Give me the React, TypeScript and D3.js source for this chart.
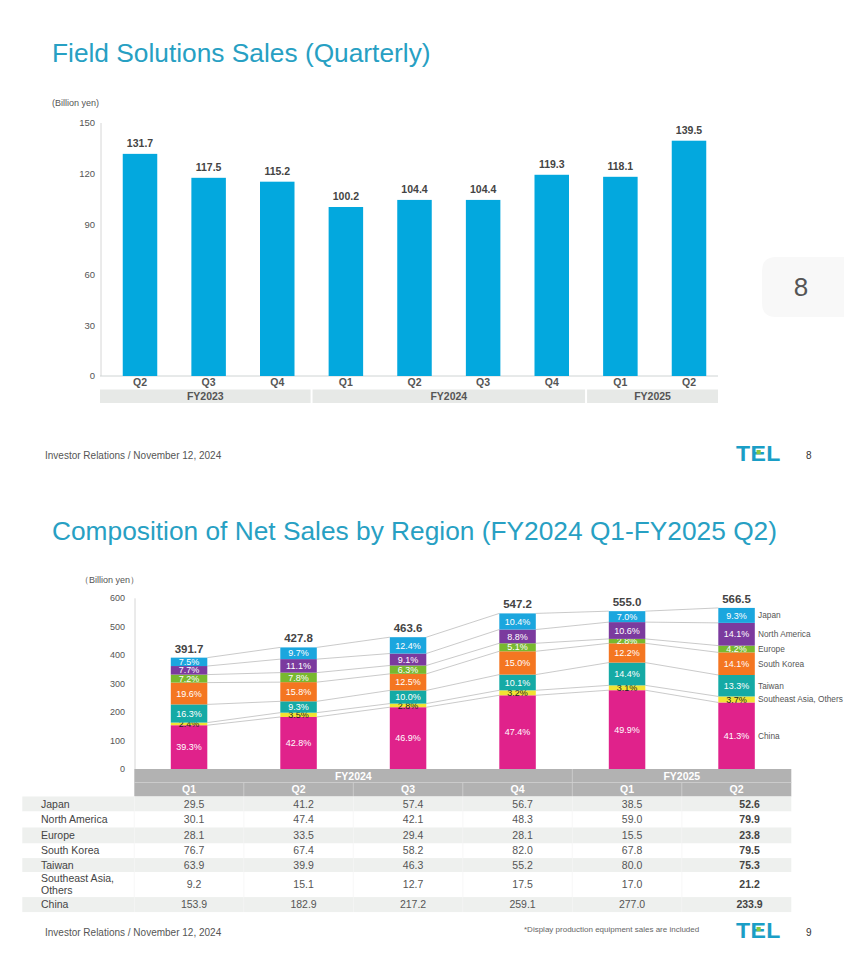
import React from 'react';
import * as d3 from 'd3';

// ---------- Field Solutions Sales (Quarterly) ----------
const fsQuarters = ['Q2', 'Q3', 'Q4', 'Q1', 'Q2', 'Q3', 'Q4', 'Q1', 'Q2'];
const fsValues = [131.7, 117.5, 115.2, 100.2, 104.4, 104.4, 119.3, 118.1, 139.5];
const fsYearLabels = ['FY2023', 'FY2024', 'FY2025'];
const fsYearCounts = [3, 4, 2];
const fsTicks = [0, 30, 60, 90, 120, 150];

// ---------- Composition of Net Sales by Region ----------
const regQuarters = ['Q1', 'Q2', 'Q3', 'Q4', 'Q1', 'Q2'];
const regYearLabels = ['FY2024', 'FY2025'];
const regYearCounts = [4, 2];
const regTicks = [0, 100, 200, 300, 400, 500, 600];
const regionNames = ['Japan', 'North America', 'Europe', 'South Korea', 'Taiwan', 'Southeast Asia, Others', 'China'];
const japanVals = [29.5, 41.2, 57.4, 56.7, 38.5, 52.6];
const northAmericaVals = [30.1, 47.4, 42.1, 48.3, 59.0, 79.9];
const europeVals = [28.1, 33.5, 29.4, 28.1, 15.5, 23.8];
const southKoreaVals = [76.7, 67.4, 58.2, 82.0, 67.8, 79.5];
const taiwanVals = [63.9, 39.9, 46.3, 55.2, 80.0, 75.3];
const seAsiaVals = [9.2, 15.1, 12.7, 17.5, 17.0, 21.2];
const chinaVals = [153.9, 182.9, 217.2, 259.1, 277.0, 233.9];
const regTotals = [391.7, 427.8, 463.6, 547.2, 555.0, 566.5];
const japanPct = [7.5, 9.7, 12.4, 10.4, 7.0, 9.3];
const northAmericaPct = [7.7, 11.1, 9.1, 8.8, 10.6, 14.1];
const europePct = [7.2, 7.8, 6.3, 5.1, 2.8, 4.2];
const southKoreaPct = [19.6, 15.8, 12.5, 15.0, 12.2, 14.1];
const taiwanPct = [16.3, 9.3, 10.0, 10.1, 14.4, 13.3];
const seAsiaPct = [2.4, 3.5, 2.8, 3.2, 3.1, 3.7];
const chinaPct = [39.3, 42.8, 46.9, 47.4, 49.9, 41.3];

const FONT = '"Liberation Sans", Arial, Helvetica, sans-serif';
const TITLE = '#27a0c3';
const BAR = '#03a8de';

const regionColors: Record<string, string> = {
  Japan: '#1ba6de',
  'North America': '#7b3a9e',
  Europe: '#78b82f',
  'South Korea': '#f47621',
  Taiwan: '#15aaa5',
  'Southeast Asia, Others': '#f1e332',
  China: '#e0228b',
};

function TelLogo({ x, y }: { x: number; y: number }) {
  return (
    <g transform={`translate(${x},${y})`}>
      <text
        x={0}
        y={17}
        fontFamily={FONT}
        fontWeight={900}
        fontSize={22}
        fill="#1a9ec6"
        letterSpacing={0.3}
        transform="scale(1.05,1)"
      >
        TEL
      </text>
      <rect x={20.5} y={6} width={4.2} height={4.2} fill="#8cc63f" />
    </g>
  );
}

export default function App() {
  // ---------- top chart scales ----------
  const fsY = d3.scaleLinear().domain([0, 150]).range([376, 123]);
  const fsX = d3.scalePoint<number>().domain(d3.range(fsValues.length)).range([140, 689]);
  const fsBarW = 34.5;
  const fsLeft = 100;
  const fsRight = 718;

  const fsGroups: { label: string; x0: number; x1: number }[] = [];
  {
    let s = 0;
    fsYearLabels.forEach((label, gi) => {
      const e = s + fsYearCounts[gi] - 1;
      const x0 = s === 0 ? fsLeft : ((fsX(s - 1) as number) + (fsX(s) as number)) / 2 + 1;
      const x1 = e === fsValues.length - 1 ? fsRight : ((fsX(e) as number) + (fsX(e + 1) as number)) / 2 - 1;
      fsGroups.push({ label, x0, x1 });
      s = e + 1;
    });
  }

  // ---------- bottom chart ----------
  const rY = d3.scaleLinear().domain([0, 600]).range([769, 598.3]);
  const colW = 109.5;
  const tableLeftCol = 134.3;
  const rX = d3
    .scalePoint<number>()
    .domain(d3.range(regQuarters.length))
    .range([tableLeftCol + colW / 2, tableLeftCol + colW * 5.5]);
  const rBarW = 36.5;

  const valueArrays: Record<string, number[]> = {
    Japan: japanVals,
    'North America': northAmericaVals,
    Europe: europeVals,
    'South Korea': southKoreaVals,
    Taiwan: taiwanVals,
    'Southeast Asia, Others': seAsiaVals,
    China: chinaVals,
  };
  const pctArrays: Record<string, number[]> = {
    Japan: japanPct,
    'North America': northAmericaPct,
    Europe: europePct,
    'South Korea': southKoreaPct,
    Taiwan: taiwanPct,
    'Southeast Asia, Others': seAsiaPct,
    China: chinaPct,
  };
  const stackOrder = [...regionNames].reverse(); // bottom to top
  const rows = regQuarters.map((_, i) => {
    const o: Record<string, number> = {};
    regionNames.forEach((r) => (o[r] = valueArrays[r][i]));
    return o;
  });
  const series = d3.stack<Record<string, number>>().keys(stackOrder)(rows);

  const boundaries: number[][] = series.map((s) => s.map((d) => d[1]));

  // table geometry
  const tableX0 = 22.3;
  const tableX1 = tableLeftCol + colW * 6;
  const hdr1Y = 769;
  const hdr2Y = 782.5;
  const bodyY = 796.5;
  const rowHeights = [15, 16, 16, 14.6, 14, 25, 15];
  const rowYs: number[] = [];
  {
    let y = bodyY;
    rowHeights.forEach((h) => {
      rowYs.push(y);
      y += h;
    });
  }
  const tableBottom = rowYs[rowYs.length - 1] + rowHeights[rowHeights.length - 1];

  const regGroups: { label: string; x0: number; x1: number }[] = [];
  {
    let s = 0;
    regYearLabels.forEach((label, gi) => {
      const x0 = tableLeftCol + s * colW;
      const x1 = tableLeftCol + (s + regYearCounts[gi]) * colW;
      regGroups.push({ label, x0, x1 });
      s += regYearCounts[gi];
    });
  }

  const lastIdx = regQuarters.length - 1;

  return (
    <svg
      width={844}
      height={960}
      style={{ position: 'absolute', left: 0, top: 0, background: '#ffffff' }}
      fontFamily={FONT}
    >
      <rect x={0} y={0} width={844} height={960} fill="#ffffff" />

      {/* ================= TOP SLIDE ================= */}
      <text x={52} y={62} fontSize={26.3} fill={TITLE}>
        Field Solutions Sales (Quarterly)
      </text>
      <text x={52} y={106} fontSize={9} fill="#555">
        (Billion yen)
      </text>

      {/* y axis */}
      <line x1={101} x2={101} y1={fsY(150)} y2={fsY(0)} stroke="#d6d6d6" strokeWidth={1} />
      {fsTicks.map((t) => (
        <text key={t} x={95} y={fsY(t)} dy="0.35em" textAnchor="end" fontSize={9.5} fill="#555">
          {t}
        </text>
      ))}
      <line x1={fsLeft} x2={fsRight} y1={fsY(0)} y2={fsY(0)} stroke="#cfd4d4" strokeWidth={1} />

      {fsValues.map((v, i) => (
        <g key={i}>
          <rect
            x={(fsX(i) as number) - fsBarW / 2}
            y={fsY(v)}
            width={fsBarW}
            height={fsY(0) - fsY(v)}
            fill={BAR}
          />
          <text
            x={fsX(i) as number}
            y={fsY(v) - 7}
            textAnchor="middle"
            fontSize={10.5}
            fontWeight="bold"
            fill="#444"
          >
            {v.toFixed(1)}
          </text>
          <text x={fsX(i) as number} y={386} textAnchor="middle" fontSize={10.5} fontWeight="bold" fill="#555">
            {fsQuarters[i]}
          </text>
        </g>
      ))}
      {fsGroups.map((g) => (
        <g key={g.label}>
          <rect x={g.x0} y={389.5} width={g.x1 - g.x0} height={13.5} fill="#e7e9e7" />
          <text x={(g.x0 + g.x1) / 2} y={400} textAnchor="middle" fontSize={10.5} fontWeight="bold" fill="#555">
            {g.label}
          </text>
        </g>
      ))}

      {/* page badge */}
      <path d="M844,257 L776,257 Q762,257 762,271 L762,303 Q762,317 776,317 L844,317 Z" fill="#f8f8f8" />
      <text x={801} y={287} dy="0.35em" textAnchor="middle" fontSize={26} fill="#555">
        8
      </text>

      {/* footer 1 */}
      <text x={45} y={459} fontSize={10} fill="#555">
        Investor Relations / November 12, 2024
      </text>
      <TelLogo x={736} y={444} />
      <text x={806} y={459} fontSize={10} fill="#333">
        8
      </text>

      {/* ================= BOTTOM SLIDE ================= */}
      <text x={52} y={540} fontSize={26.3} fill={TITLE}>
        Composition of Net Sales by Region (FY2024 Q1-FY2025 Q2)
      </text>
      <text x={80} y={583} fontSize={9} fill="#555">
        （Billion yen）
      </text>

      <line x1={135} x2={135} y1={rY(600)} y2={rY(0)} stroke="#d6d6d6" strokeWidth={1} />
      {regTicks.map((t) => (
        <text key={t} x={125} y={rY(t)} dy="0.35em" textAnchor="end" fontSize={9} fill="#555">
          {t}
        </text>
      ))}

      {/* connector lines */}
      {regQuarters.slice(0, -1).map((_, i) =>
        boundaries.map((b, k) => (
          <line
            key={`c${i}-${k}`}
            x1={(rX(i) as number) + rBarW / 2}
            y1={rY(b[i])}
            x2={(rX(i + 1) as number) - rBarW / 2}
            y2={rY(b[i + 1])}
            stroke="#bdbdbd"
            strokeWidth={0.8}
          />
        ))
      )}

      {/* stacked bars */}
      {series.map((s) => {
        const key = s.key as string;
        return (
          <g key={key}>
            {s.map((d, i) => {
              const y0 = rY(d[0]);
              const y1 = rY(d[1]);
              const isSea = key === 'Southeast Asia, Others';
              return (
                <g key={i}>
                  <rect
                    x={(rX(i) as number) - rBarW / 2}
                    y={y1}
                    width={rBarW}
                    height={y0 - y1}
                    fill={regionColors[key]}
                  />
                  <text
                    x={rX(i) as number}
                    y={(y0 + y1) / 2}
                    dy="0.35em"
                    textAnchor="middle"
                    fontSize={9}
                    fill={isSea ? '#222' : '#ffffff'}
                  >
                    {pctArrays[key][i].toFixed(1)}%
                  </text>
                </g>
              );
            })}
          </g>
        );
      })}

      {regTotals.map((t, i) => (
        <text
          key={i}
          x={rX(i) as number}
          y={rY(boundaries[boundaries.length - 1][i]) - 5}
          textAnchor="middle"
          fontSize={11.5}
          fontWeight="bold"
          fill="#444"
        >
          {t.toFixed(1)}
        </text>
      ))}

      {series.map((s) => {
        const key = s.key as string;
        const d = s[lastIdx];
        return (
          <text
            key={key}
            x={758}
            y={(rY(d[0]) + rY(d[1])) / 2}
            dy="0.35em"
            fontSize={8.3}
            fill="#555"
          >
            {key}
          </text>
        );
      })}

      {/* table header */}
      <rect x={tableLeftCol} y={hdr1Y} width={tableX1 - tableLeftCol} height={bodyY - hdr1Y} fill="#b2b2b2" />
      <line x1={tableLeftCol} x2={tableX1} y1={hdr2Y} y2={hdr2Y} stroke="#d2d2d2" strokeWidth={0.8} />
      {regGroups.map((g, gi) => (
        <g key={g.label}>
          {gi > 0 && <line x1={g.x0} x2={g.x0} y1={hdr1Y} y2={hdr2Y} stroke="#d2d2d2" strokeWidth={0.8} />}
          <text x={(g.x0 + g.x1) / 2} y={779.5} textAnchor="middle" fontSize={10.5} fontWeight="bold" fill="#ffffff">
            {g.label}
          </text>
        </g>
      ))}
      {regQuarters.map((q, i) => (
        <g key={`h${i}`}>
          {i > 0 && (
            <line
              x1={tableLeftCol + i * colW}
              x2={tableLeftCol + i * colW}
              y1={hdr2Y}
              y2={bodyY}
              stroke="#d2d2d2"
              strokeWidth={0.8}
            />
          )}
          <text x={rX(i) as number} y={793} textAnchor="middle" fontSize={10.5} fontWeight="bold" fill="#ffffff">
            {q}
          </text>
        </g>
      ))}

      {/* table body */}
      {regionNames.map((r, ri) => (
        <rect
          key={r}
          x={tableX0}
          y={rowYs[ri]}
          width={tableX1 - tableX0}
          height={rowHeights[ri]}
          fill={ri % 2 === 0 ? '#eef0ee' : '#ffffff'}
        />
      ))}
      {regQuarters.map((_, i) => (
        <line
          key={`v${i}`}
          x1={tableLeftCol + i * colW}
          x2={tableLeftCol + i * colW}
          y1={bodyY}
          y2={tableBottom}
          stroke="#f6f6f6"
          strokeWidth={0.8}
        />
      ))}
      {regionNames.map((r, ri) => {
        const cy = rowYs[ri] + rowHeights[ri] / 2;
        const isSea = r === 'Southeast Asia, Others';
        return (
          <g key={`t${r}`}>
            {isSea ? (
              <text x={41} y={cy} fontSize={10.5} fill="#444">
                <tspan x={41} dy="-0.25em">
                  Southeast Asia,
                </tspan>
                <tspan x={41} dy="1.15em">
                  Others
                </tspan>
              </text>
            ) : (
              <text x={41} y={cy} dy="0.35em" fontSize={10.5} fill="#444">
                {r}
              </text>
            )}
            {valueArrays[r].map((v, i) => (
              <text
                key={i}
                x={(rX(i) as number) + (i === lastIdx ? 13 : 5)}
                y={cy}
                dy="0.35em"
                textAnchor="middle"
                fontSize={10.5}
                fontWeight={i === lastIdx ? 'bold' : 'normal'}
                fill={i === lastIdx ? '#444' : '#555'}
              >
                {v.toFixed(1)}
              </text>
            ))}
          </g>
        );
      })}

      {/* footer 2 */}
      <text x={45} y={936} fontSize={10} fill="#555">
        Investor Relations / November 12, 2024
      </text>
      <text x={524} y={932} fontSize={8} fill="#666">
        *Display production equipment sales are included
      </text>
      <TelLogo x={736} y={921} />
      <text x={806} y={936} fontSize={10} fill="#333">
        9
      </text>
    </svg>
  );
}
